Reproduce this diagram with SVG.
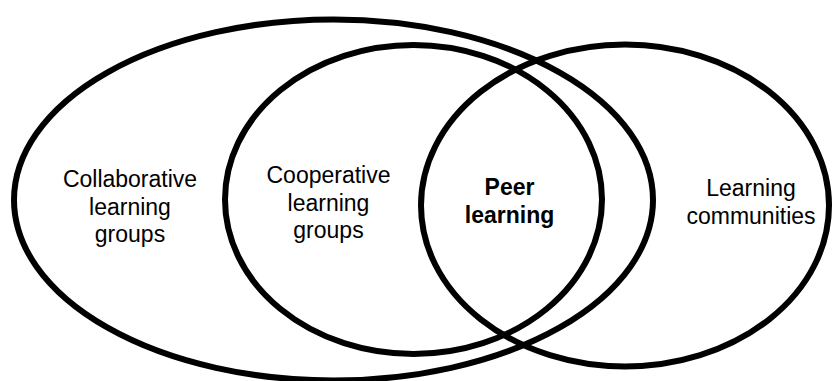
<svg xmlns="http://www.w3.org/2000/svg" width="832" height="381" viewBox="0 0 832 381">
  <style>
    .ring { fill: none; stroke: #000; stroke-width: 6; }
    .label { font-family: "Liberation Sans", Arial, sans-serif; font-size: 23px; fill: #000; text-anchor: middle; }
    .bold { font-weight: bold; }
  </style>
  <rect width="832" height="381" fill="#fff"/>

  <!-- Collaborative learning groups: the outermost set -->
  <g id="collaborative">
    <ellipse class="ring" cx="333.5" cy="200" rx="319.5" ry="180.5"/>
    <text class="label" x="130" y="187">Collaborative</text>
    <text class="label" x="130" y="214.5">learning</text>
    <text class="label" x="130" y="242">groups</text>
  </g>

  <!-- Cooperative learning groups: nested inside the collaborative set -->
  <g id="cooperative">
    <ellipse class="ring" cx="413.5" cy="199.5" rx="188.5" ry="154.5"/>
    <text class="label" x="328.5" y="183">Cooperative</text>
    <text class="label" x="328.5" y="210.5">learning</text>
    <text class="label" x="328.5" y="238">groups</text>
  </g>

  <!-- Learning communities: overlaps both on the right -->
  <g id="communities">
    <ellipse class="ring" cx="625" cy="205.5" rx="204" ry="161"/>
    <text class="label" x="751" y="196">Learning</text>
    <text class="label" x="751" y="223.5">communities</text>
  </g>

  <!-- Peer learning: the shared overlap region -->
  <g id="peer">
    <text class="label bold" x="509.5" y="195">Peer</text>
    <text class="label bold" x="509.5" y="222.5">learning</text>
  </g>
</svg>
